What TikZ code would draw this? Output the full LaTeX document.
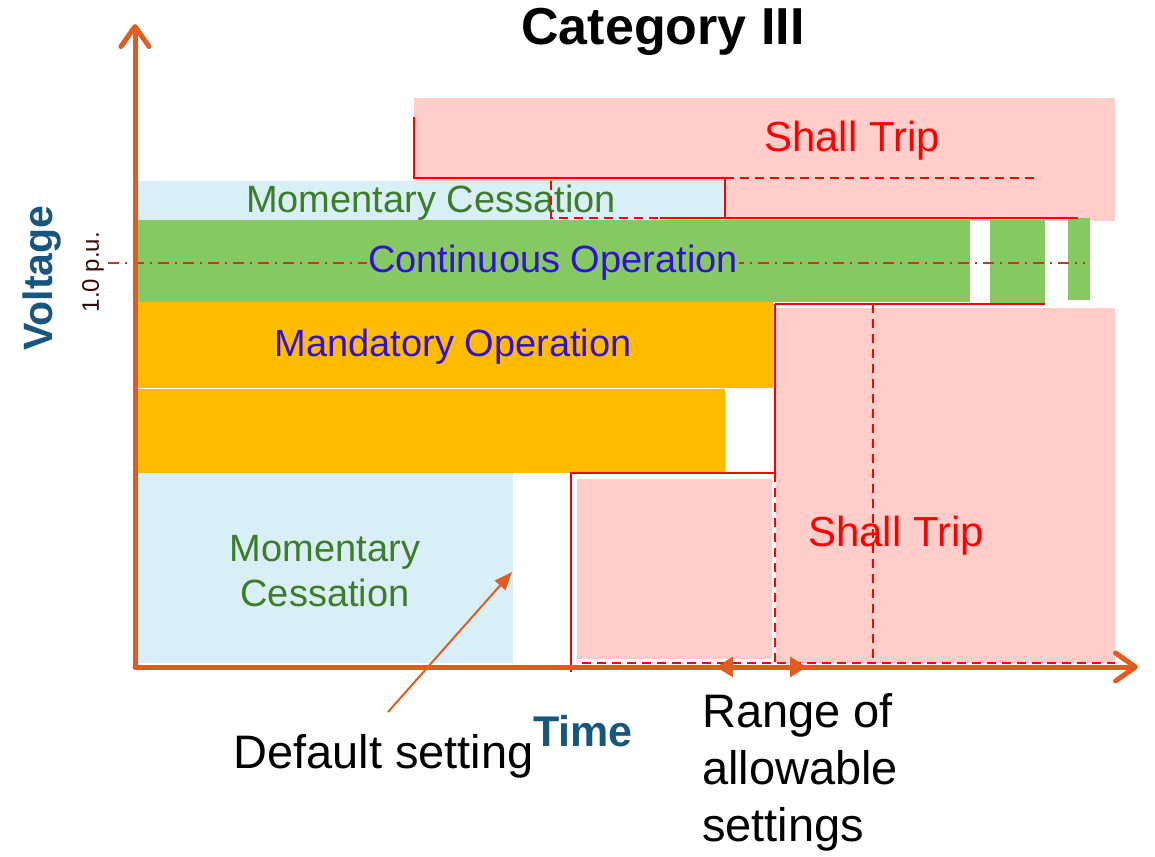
\documentclass[tikz,border=0pt]{standalone}
\usepackage{fontspec}
\setmainfont{Liberation Sans}
\usetikzlibrary{arrows.meta}
\definecolor{axisorange}{RGB}{224,92,32}
\definecolor{lblue}{RGB}{217,239,248}
\definecolor{lgreen}{RGB}{134,200,98}
\definecolor{mgold}{RGB}{255,187,0}
\definecolor{lpink}{RGB}{255,206,202}
\definecolor{txtgreen}{RGB}{61,125,39}
\definecolor{txtblue}{RGB}{51,17,210}
\definecolor{axblue}{RGB}{23,86,127}
\definecolor{ddred}{RGB}{200,50,40}
\tikzset{
  axisline/.style={draw=axisorange, line width=5pt, line cap=round,
    -{Straight Barb[length=20pt,width=28pt,line join=round,line cap=round]}},
  trip/.style={draw=red, line width=2.6pt},
  tripdash/.style={draw=red, line width=2.4pt, dash pattern=on 9pt off 6pt},
  lbl/.style={inner sep=1pt, font=\fontsize{38}{45}\selectfont},
  trlbl/.style={inner sep=1pt, text=red, font=\fontsize{42}{48}\selectfont},
  blk/.style={inner sep=0pt, text=black, font=\fontsize{47}{57}\selectfont},
}
\begin{document}
\begin{tikzpicture}[x=1pt,y=-1pt]
\useasboundingbox (0,0) rectangle (1155,856);
% pink shall trip regions
\fill[lpink] (414,98) rectangle (1115,221);
\fill[lpink] (776,308) rectangle (1115,663);
\fill[lpink] (577,479) rectangle (772,659);
% bands
\fill[lblue] (138,181) rectangle (725,220);
\fill[lgreen] (138,220) rectangle (970,302);
\fill[lgreen] (990,220) rectangle (1045,303);
\fill[lgreen] (1068,218) rectangle (1090,300);
\fill[mgold] (138,302) rectangle (773,388);
\fill[mgold] (138,389) rectangle (725,473);
\fill[lblue] (138,473) rectangle (513,663);
% 1.0 p.u. dash-dot line
\draw[ddred, line width=1.8pt, dash pattern=on 11pt off 6pt on 2pt off 6pt] (108,263) -- (1085,263);
% band labels
\node[lbl, text=txtgreen] (mc1) at (431,203) {Momentary Cessation};
\node[lbl, text=txtblue, fill=lgreen] (co) at (553,263) {Continuous Operation};
\node[lbl, text=txtblue] (mo) at (453,347) {Mandatory Operation};
\node[lbl, text=txtgreen, align=center] (mc2) at (325,571) {Momentary\\Cessation};
% red boundaries, top
\draw[trip] (414,117) -- (414,178) -- (725,178) -- (725,218);
\draw[tripdash] (725,178) -- (1040,178);
\draw[tripdash] (551,181) -- (551,218) -- (660,218);
\draw[trip] (660,218) -- (1078,218);
% red boundaries, bottom
\draw[trip] (775,304) -- (1045,304);
\draw[trip] (775,304) -- (775,473) -- (571,473) -- (571,672);
\draw[tripdash] (775,473) -- (775,663);
\draw[tripdash] (873,304) -- (873,663);
\draw[tripdash] (582,663) -- (1115,663);
% axes
\coordinate (origin) at (135,667);
\coordinate (ytip) at (135,24);
\coordinate (xtip) at (1138,667);
\draw[axisline] (origin) -- (ytip);
\draw[axisline] (origin) -- (xtip);
% range arrows
\coordinate (rl) at (716,667);
\coordinate (rr) at (807,667);
\draw[draw=axisorange, line width=3pt, {Triangle[length=17pt,width=20pt]}-{Triangle[length=17pt,width=20pt]}] (rl) -- (rr);
% texts
\node[inner sep=0pt, font=\fontsize{52}{60}\selectfont\bfseries] (title) at (663,32) {Category III};
\node[trlbl] (st1) at (852,141) {Shall Trip};
\node[trlbl] (st2) at (896,536) {Shall Trip};
\node[rotate=90, inner sep=0pt, text=axblue, font=\fontsize{41}{48}\selectfont\bfseries] (volt) at (42,278) {Voltage};
\node[rotate=90, inner sep=0pt, text={rgb,255:red,50;green,10;blue,10}, font=\fontsize{24}{28}\selectfont] (pu) at (93,272) {1.0 p.u.};
\node[inner sep=0pt, text=axblue, font=\fontsize{43}{50}\selectfont\bfseries] (time) at (583,731) {Time};
\node[blk, anchor=base west] (def) at (233,768) {Default setting};
\node[blk, anchor=north west, align=left] (range) at (702,693) {Range of\\allowable\\settings};
% default setting arrow
\coordinate (defstart) at (388,712);
\coordinate (deftip) at (512,572);
\draw[draw=axisorange, line width=2pt, -{Triangle[length=18pt,width=14pt]}] (defstart) -- (deftip);
\end{tikzpicture}
\end{document}
